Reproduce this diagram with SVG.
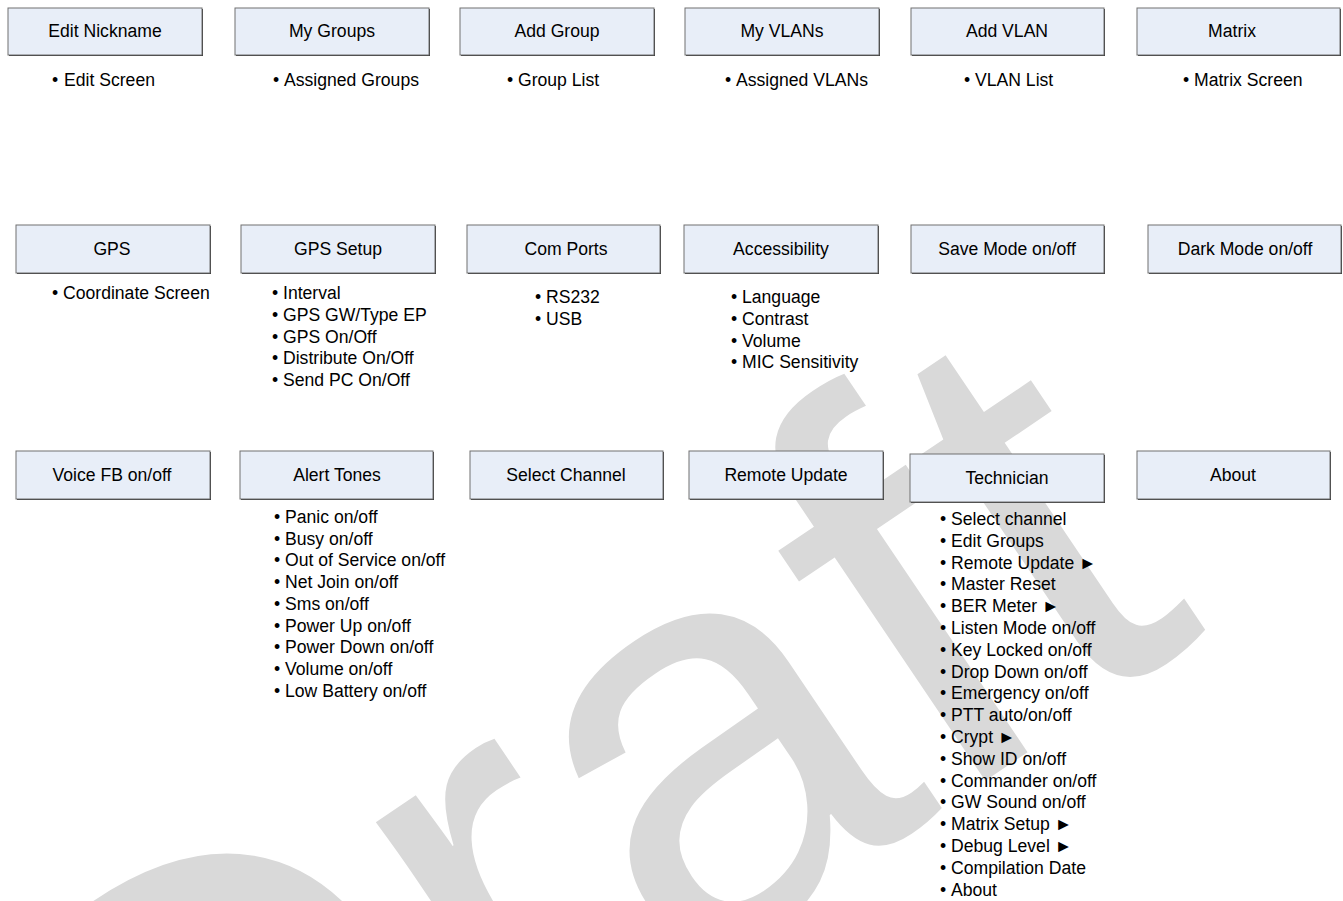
<svg xmlns="http://www.w3.org/2000/svg" width="1343" height="901" viewBox="0 0 1343 901">
<style>
.bg{fill:#ffffff}
.wm{fill:#d9d9d9;font-family:"Liberation Sans",Arial,sans-serif;font-size:580px}
.sh{fill:#333333}
.box{fill:#e8eef8;stroke:#707070;stroke-width:1}
.lbl{font-family:"Liberation Sans",Arial,sans-serif;font-size:17.6px;fill:#000000;text-anchor:middle}
.it{font-family:"Liberation Sans",Arial,sans-serif;font-size:17.6px;fill:#000000}
</style>
<rect class="bg" x="0" y="0" width="1343" height="901"/>
<g id="watermark">
<text class="wm" transform="translate(168,1332) rotate(-34)">Draft</text>
</g>
<g id="connectors"></g>

<g id="edit-nickname"><rect class="sh" x="9" y="9" width="194" height="47"/><rect class="box" x="8" y="8" width="194" height="47"/><text class="lbl" x="105" y="37">Edit Nickname</text>
<text class="it" x="52" y="86">•<tspan x="64">Edit Screen</tspan></text></g>
<g id="my-groups"><rect class="sh" x="236" y="9" width="194" height="47"/><rect class="box" x="235" y="8" width="194" height="47"/><text class="lbl" x="332" y="37">My Groups</text>
<text class="it" x="273" y="86">•<tspan x="284">Assigned Groups</tspan></text></g>
<g id="add-group"><rect class="sh" x="461" y="9" width="194" height="47"/><rect class="box" x="460" y="8" width="194" height="47"/><text class="lbl" x="557" y="37">Add Group</text>
<text class="it" x="507" y="86">•<tspan x="518">Group List</tspan></text></g>
<g id="my-vlans"><rect class="sh" x="686" y="9" width="194" height="47"/><rect class="box" x="685" y="8" width="194" height="47"/><text class="lbl" x="782" y="37">My VLANs</text>
<text class="it" x="725" y="86">•<tspan x="736">Assigned VLANs</tspan></text></g>
<g id="add-vlan"><rect class="sh" x="912" y="9" width="193" height="47"/><rect class="box" x="911" y="8" width="193" height="47"/><text class="lbl" x="1007" y="37">Add VLAN</text>
<text class="it" x="964" y="86">•<tspan x="975">VLAN List</tspan></text></g>
<g id="matrix"><rect class="sh" x="1138" y="9" width="203" height="47"/><rect class="box" x="1137" y="8" width="203" height="47"/><text class="lbl" x="1232" y="37">Matrix</text>
<text class="it" x="1183" y="86">•<tspan x="1194">Matrix Screen</tspan></text></g>

<g id="gps"><rect class="sh" x="17" y="226" width="194" height="48"/><rect class="box" x="16" y="225" width="194" height="48"/><text class="lbl" x="112" y="255">GPS</text>
<text class="it" x="52" y="299">•<tspan x="63">Coordinate Screen</tspan></text></g>
<g id="gps-setup"><rect class="sh" x="242" y="226" width="194" height="48"/><rect class="box" x="241" y="225" width="194" height="48"/><text class="lbl" x="338" y="255">GPS Setup</text>
<text class="it" x="272" y="299">•<tspan x="283">Interval</tspan></text>
<text class="it" x="272" y="321">•<tspan x="283">GPS GW/Type EP</tspan></text>
<text class="it" x="272" y="343">•<tspan x="283">GPS On/Off</tspan></text>
<text class="it" x="272" y="364">•<tspan x="283">Distribute On/Off</tspan></text>
<text class="it" x="272" y="386">•<tspan x="283">Send PC On/Off</tspan></text></g>
<g id="com-ports"><rect class="sh" x="468" y="226" width="193" height="48"/><rect class="box" x="467" y="225" width="193" height="48"/><text class="lbl" x="566" y="255">Com Ports</text>
<text class="it" x="535" y="303">•<tspan x="546">RS232</tspan></text>
<text class="it" x="535" y="325">•<tspan x="546">USB</tspan></text></g>
<g id="accessibility"><rect class="sh" x="685" y="226" width="194" height="48"/><rect class="box" x="684" y="225" width="194" height="48"/><text class="lbl" x="781" y="255">Accessibility</text>
<text class="it" x="731" y="303">•<tspan x="742">Language</tspan></text>
<text class="it" x="731" y="325">•<tspan x="742">Contrast</tspan></text>
<text class="it" x="731" y="347">•<tspan x="742">Volume</tspan></text>
<text class="it" x="731" y="368">•<tspan x="742">MIC Sensitivity</tspan></text></g>
<g id="save-mode"><rect class="sh" x="912" y="226" width="193" height="48"/><rect class="box" x="911" y="225" width="193" height="48"/><text class="lbl" x="1007" y="255">Save Mode on/off</text></g>
<g id="dark-mode"><rect class="sh" x="1149" y="226" width="193" height="48"/><rect class="box" x="1148" y="225" width="193" height="48"/><text class="lbl" x="1245" y="255">Dark Mode on/off</text></g>

<g id="voice-fb"><rect class="sh" x="17" y="452" width="194" height="48"/><rect class="box" x="16" y="451" width="194" height="48"/><text class="lbl" x="112" y="481">Voice FB on/off</text></g>
<g id="alert-tones"><rect class="sh" x="241" y="452" width="193" height="48"/><rect class="box" x="240" y="451" width="193" height="48"/><text class="lbl" x="337" y="481">Alert Tones</text>
<text class="it" x="274" y="523">•<tspan x="285">Panic on/off</tspan></text>
<text class="it" x="274" y="544.7">•<tspan x="285">Busy on/off</tspan></text>
<text class="it" x="274" y="566.4">•<tspan x="285">Out of Service on/off</tspan></text>
<text class="it" x="274" y="588.1">•<tspan x="285">Net Join on/off</tspan></text>
<text class="it" x="274" y="609.8">•<tspan x="285">Sms on/off</tspan></text>
<text class="it" x="274" y="631.5">•<tspan x="285">Power Up on/off</tspan></text>
<text class="it" x="274" y="653.2">•<tspan x="285">Power Down on/off</tspan></text>
<text class="it" x="274" y="674.9">•<tspan x="285">Volume on/off</tspan></text>
<text class="it" x="274" y="696.6">•<tspan x="285">Low Battery on/off</tspan></text></g>
<g id="select-channel"><rect class="sh" x="471" y="452" width="193" height="48"/><rect class="box" x="470" y="451" width="193" height="48"/><text class="lbl" x="566" y="481">Select Channel</text></g>
<g id="remote-update"><rect class="sh" x="690" y="452" width="194" height="48"/><rect class="box" x="689" y="451" width="194" height="48"/><text class="lbl" x="786" y="481">Remote Update</text></g>
<g id="technician"><rect class="sh" x="911" y="455" width="194" height="48"/><rect class="box" x="910" y="454" width="194" height="48"/><text class="lbl" x="1007" y="484">Technician</text>
<text class="it" x="940" y="525">•<tspan x="951">Select channel</tspan></text>
<text class="it" x="940" y="546.8">•<tspan x="951">Edit Groups</tspan></text>
<text class="it" x="940" y="568.6">•<tspan x="951">Remote Update ►</tspan></text>
<text class="it" x="940" y="590.4">•<tspan x="951">Master Reset</tspan></text>
<text class="it" x="940" y="612.2">•<tspan x="951">BER Meter ►</tspan></text>
<text class="it" x="940" y="634">•<tspan x="951">Listen Mode on/off</tspan></text>
<text class="it" x="940" y="655.8">•<tspan x="951">Key Locked on/off</tspan></text>
<text class="it" x="940" y="677.6">•<tspan x="951">Drop Down on/off</tspan></text>
<text class="it" x="940" y="699.4">•<tspan x="951">Emergency on/off</tspan></text>
<text class="it" x="940" y="721.2">•<tspan x="951">PTT auto/on/off</tspan></text>
<text class="it" x="940" y="743">•<tspan x="951">Crypt ►</tspan></text>
<text class="it" x="940" y="764.8">•<tspan x="951">Show ID on/off</tspan></text>
<text class="it" x="940" y="786.6">•<tspan x="951">Commander on/off</tspan></text>
<text class="it" x="940" y="808.4">•<tspan x="951">GW Sound on/off</tspan></text>
<text class="it" x="940" y="830.2">•<tspan x="951">Matrix Setup ►</tspan></text>
<text class="it" x="940" y="852">•<tspan x="951">Debug Level ►</tspan></text>
<text class="it" x="940" y="873.8">•<tspan x="951">Compilation Date</tspan></text>
<text class="it" x="940" y="895.6">•<tspan x="951">About</tspan></text></g>
<g id="about"><rect class="sh" x="1138" y="452" width="193" height="48"/><rect class="box" x="1137" y="451" width="193" height="48"/><text class="lbl" x="1233" y="481">About</text></g>
</svg>
